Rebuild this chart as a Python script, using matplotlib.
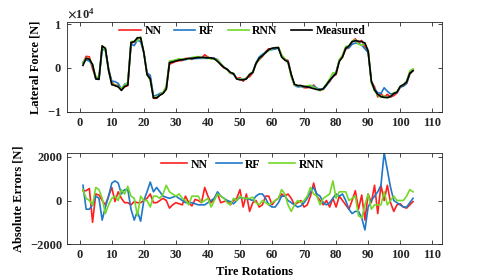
import matplotlib
matplotlib.use("Agg")
import matplotlib.pyplot as plt
import numpy as np

rotations = np.arange(1, 105)

measured = [
    600, 2200, 2000, 800, -2500, -2600, 5000, 4500, -500, -3800,
    -4000, -4300, -5100, -4200, -3900, 5800, 6000, 6900, 6900, 3500,
    -1500, -2500, -6800, -6800, -6200, -5800, -4800, 1200, 1400, 1600,
    1800, 1900, 2000, 2200, 2200, 2300, 2400, 2400, 2400, 2300,
    2300, 2100, 1500, 800, 100, -300, -1000, -1300, -2500, -2700,
    -2700, -2500, -1500, -1000, 1000, 2200, 2800, 3500, 4200, 4500,
    4600, 4600, 2500, 1800, 1400, -1500, -3700, -4000, -4000, -4200,
    -4300, -4500, -4700, -4900, -5000, -4700, -3800, -2800, -2000, -1200,
    1500, 2500, 4500, 5000, 6000, 6200, 6100, 6000, 5700, 3800,
    -3000, -5000, -6000, -6500, -6700, -6700, -6500, -5800, -5500, -4200,
    -3800, -3200, -1200, -600,
]

# prediction errors (predicted - measured)
err_nn = [
    450, 450, 550, -1000, 300, 250, 0, -200, 200, 600,
    -50, 400, 100, -100, -100, -200, -50, -100, -100, 0,
    100, 300, -100, -100, 0, 100, 0, -350, -200, -100,
    -150, -200, 200, -100, -250, 50, 0, -100, 600, 200,
    -100, 100, 300, -100, -50, 0, -200, 0, 100, 500,
    -300, 300, -500, -100, 0, -300, -200, 200, 200, -200,
    0, 100, 300, 200, 300, 100, -200, -100, 0, -300,
    -200, 200, 800, 200, 0, -200, 0, -300, 100, -300,
    200, 0, -200, -400, 0, 450, -400, 250, -900, 300,
    -100, 700, -600, 700, 0, 700, -100, -500, -200, -150,
    -300, -350, -200, -50,
]
err_rf = [
    700, -400, -400, -200, 200, 100, -900, -300, 200, 800,
    900, 800, 300, 500, 500, -400, -900, -500, -950, 0,
    400, 850, 400, 600, 400, 200, 150, 100, 150, 200,
    100, 0, -100, -100, -100, -150, -200, -200, -200, -100,
    0, 100, 400, 200, 100, 0, -50, -150, 0, 150,
    100, 100, 50, 0, 200, 300, 300, 100, -200, -300,
    -300, -100, 200, 200, 0, -100, -200, -300, -250, -100,
    100, 400, 600, 300, 200, -100, -200, -100, 100, 300,
    200, 300, 0, -400, -600, -500, -500, -800, -1350, -300,
    0, 200, 400, 700, 2200, 1400, 600, 0, -100, -200,
    -300, -300, -100, 100,
]
err_rnn = [
    500, 100, 0, -200, 600, 500, 100, -600, -200, 100,
    200, 0, 500, 300, 650, 200, 100, -700, 200, 0,
    0, -300, 200, 200, 100, 300, 700, 400, 300, 200,
    300, 100, 0, -200, 200, 200, 200, -100, 0, 100,
    -300, 0, 300, 200, 100, -100, -200, 100, 0, 200,
    100, 100, 100, 150, -100, -200, 0, -100, -200, -100,
    0, 100, 500, 300, -200, -500, -200, 0, -100, 0,
    200, 600, 300, 200, -200, 100, 200, 300, 900, 100,
    400, 400, 400, 0, 100, 200, -700, -800, -200, 300,
    -400, -200, -200, -200, 400, -200, 0, 200, 0, 0,
    0, 200, 500, 400,
]

pred_nn = np.array(measured) + np.array(err_nn)
pred_rf = np.array(measured) + np.array(err_rf)
pred_rnn = np.array(measured) + np.array(err_rnn)

c_nn = "#ff1f1f"
c_rf = "#1f78c8"
c_rnn = "#72d82a"

plt.rcParams["font.family"] = ["Liberation Serif", "DejaVu Serif"]
plt.rcParams["font.weight"] = "bold"
plt.rcParams["mathtext.fontset"] = "stix"
plt.rcParams["font.size"] = 9

fig = plt.figure(figsize=(4.85, 2.77), dpi=100)
ax1 = fig.add_axes([0.138, 0.596, 0.773, 0.325])
ax2 = fig.add_axes([0.138, 0.119, 0.773, 0.330])

lw = 1.2
ax1.plot(rotations, pred_nn, color=c_nn, lw=lw, label="NN")
ax1.plot(rotations, pred_rf, color=c_rf, lw=lw, label="RF")
ax1.plot(rotations, pred_rnn, color=c_rnn, lw=lw, label="RNN")
ax1.plot(rotations, measured, color="black", lw=lw, label="Measured")
ax1.set_ylim(-1e4, 1.05e4)
ax1.set_yticks([-1e4, 0, 1e4])
ax1.ticklabel_format(axis="y", style="sci", scilimits=(0, 0), useMathText=True)
ax1.set_ylabel("Lateral Force [N]", fontweight="bold")
ax1.legend(loc="center", bbox_to_anchor=(0.468, 0.90), ncol=4, frameon=False,
           handlelength=1.8, handletextpad=0.3, columnspacing=1.1,
           borderaxespad=0, borderpad=0,
           prop={"weight": "bold", "size": 8.5})

ax2.plot(rotations, err_nn, color=c_nn, lw=lw, label="NN")
ax2.plot(rotations, err_rf, color=c_rf, lw=lw, label="RF")
ax2.plot(rotations, err_rnn, color=c_rnn, lw=lw, label="RNN")
ax2.set_ylim(-2000, 2200)
ax2.set_yticks([-2000, 0, 2000])
ax2.set_ylabel("Absolute Errors [N]", fontweight="bold")
ax2.set_xlabel("Tire Rotations", fontweight="bold", fontsize=9)
ax2.legend(loc="center", bbox_to_anchor=(0.468, 0.87), ncol=3, frameon=False,
           handlelength=2.2, handletextpad=0.3, columnspacing=0.7,
           borderaxespad=0, borderpad=0,
           prop={"weight": "bold", "size": 8.5})

for ax in (ax1, ax2):
    ax.set_xlim(-4, 113)
    ax.set_xticks(np.arange(0, 111, 10))
    ax.tick_params(direction="in", top=True, right=True, length=3, width=0.6,
                   labelsize=9, colors="#262626")
    for sp in ax.spines.values():
        sp.set_linewidth(0.6)
        sp.set_color("#262626")

fig.savefig("out.png", dpi=100)
